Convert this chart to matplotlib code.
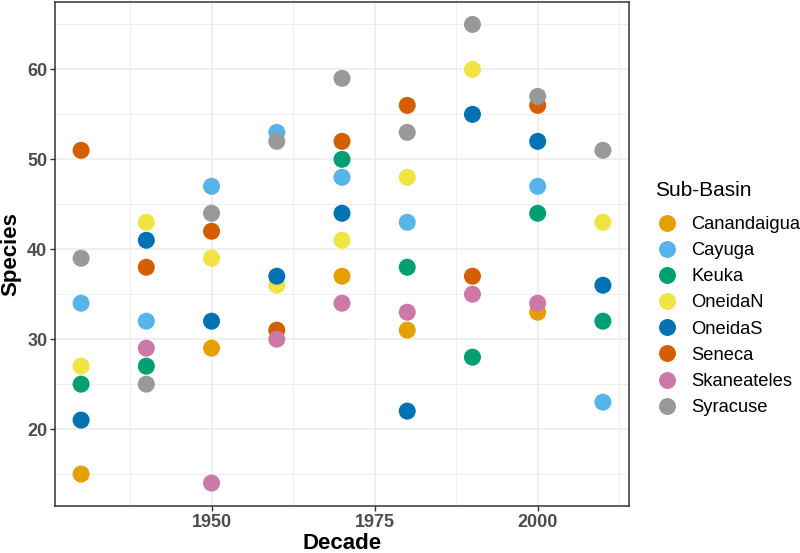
import numpy as np
import matplotlib
matplotlib.use("Agg")
import matplotlib.pyplot as plt
from matplotlib.lines import Line2D
from matplotlib.ticker import FixedLocator

plt.rcParams['font.family'] = ['Liberation Sans', 'DejaVu Sans']

nan = np.nan
decades = [1930, 1940, 1950, 1960, 1970, 1980, 1990, 2000, 2010]
basins = ["Canandaigua", "Cayuga", "Keuka", "OneidaN", "OneidaS", "Seneca", "Skaneateles", "Syracuse"]
colors = ["#E69F00", "#56B4E9", "#009E73", "#F0E442", "#0072B2", "#D55E00", "#CC79A7", "#999999"]

canandaigua = [15, nan, 29, nan, 37, 31, nan, 33, nan]
cayuga      = [34, 32, 47, 53, 48, 43, nan, 47, 23]
keuka       = [25, 27, nan, nan, 50, 38, 28, 44, 32]
oneidan     = [27, 43, 39, 36, 41, 48, 60, nan, 43]
oneidas     = [21, 41, 32, 37, 44, 22, 55, 52, 36]
seneca      = [51, 38, 42, 31, 52, 56, 37, 56, nan]
skaneateles = [nan, 29, 14, 30, 34, 33, 35, 34, nan]
syracuse    = [39, 25, 44, 52, 59, 53, 65, 57, 51]
series = [canandaigua, cayuga, keuka, oneidan, oneidas, seneca, skaneateles, syracuse]

fig = plt.figure(figsize=(8, 5.53), dpi=100)
ax = fig.add_axes([55/800, 1-506/553, (629-55)/800, (506-1.5)/553])

for name, vals, c in zip(basins, series, colors):
    ax.scatter(decades, vals, s=150, color=c, edgecolors='none', zorder=3, label=name)

ax.set_xlim(1926, 2014)
ax.set_ylim(11.45, 67.55)
ax.xaxis.set_major_locator(FixedLocator([1950, 1975, 2000]))
ax.xaxis.set_minor_locator(FixedLocator([1937.5, 1962.5, 1987.5, 2012.5]))
ax.yaxis.set_major_locator(FixedLocator([20, 30, 40, 50, 60]))
ax.yaxis.set_minor_locator(FixedLocator([15, 25, 35, 45, 55, 65]))
ax.grid(which='major', color='#EBEBEB', linewidth=1.1, zorder=0)
ax.grid(which='minor', color='#EBEBEB', linewidth=0.55, zorder=0)
ax.set_axisbelow(True)
ax.tick_params(which='minor', length=0)
ax.tick_params(which='major', length=3.5, width=1, color='#333333',
               labelcolor='#4D4D4D', labelsize=13, pad=2)
for lab in ax.get_xticklabels() + ax.get_yticklabels():
    lab.set_fontweight('bold')
for sp in ax.spines.values():
    sp.set_color('#333333')
    sp.set_linewidth(1.1)

ax.set_xlabel("Decade", fontsize=16, fontweight='bold', color='black')
ax.set_ylabel("Species", fontsize=16, fontweight='bold', color='black')
ax.xaxis.set_label_coords(0.5, -(533 - 506) / 504.5)
ax.yaxis.set_label_coords(-(55 - 21) / 574, 0.5)

handles = [Line2D([], [], marker='o', linestyle='none', markersize=12.2,
                  markerfacecolor=c, markeredgecolor='none') for c in colors]
leg = fig.legend(handles, basins, loc='upper left', bbox_to_anchor=(655/800, 1-181/553),
                 frameon=False, fontsize=13.2, title="Sub-Basin", title_fontsize=15,
                 labelspacing=0.5, handletextpad=0.66, handlelength=1.31,
                 borderpad=0, borderaxespad=0)
leg._legend_box.align = "left"
leg._legend_box.sep = 11.5

fig.savefig("out.png", dpi=100)
